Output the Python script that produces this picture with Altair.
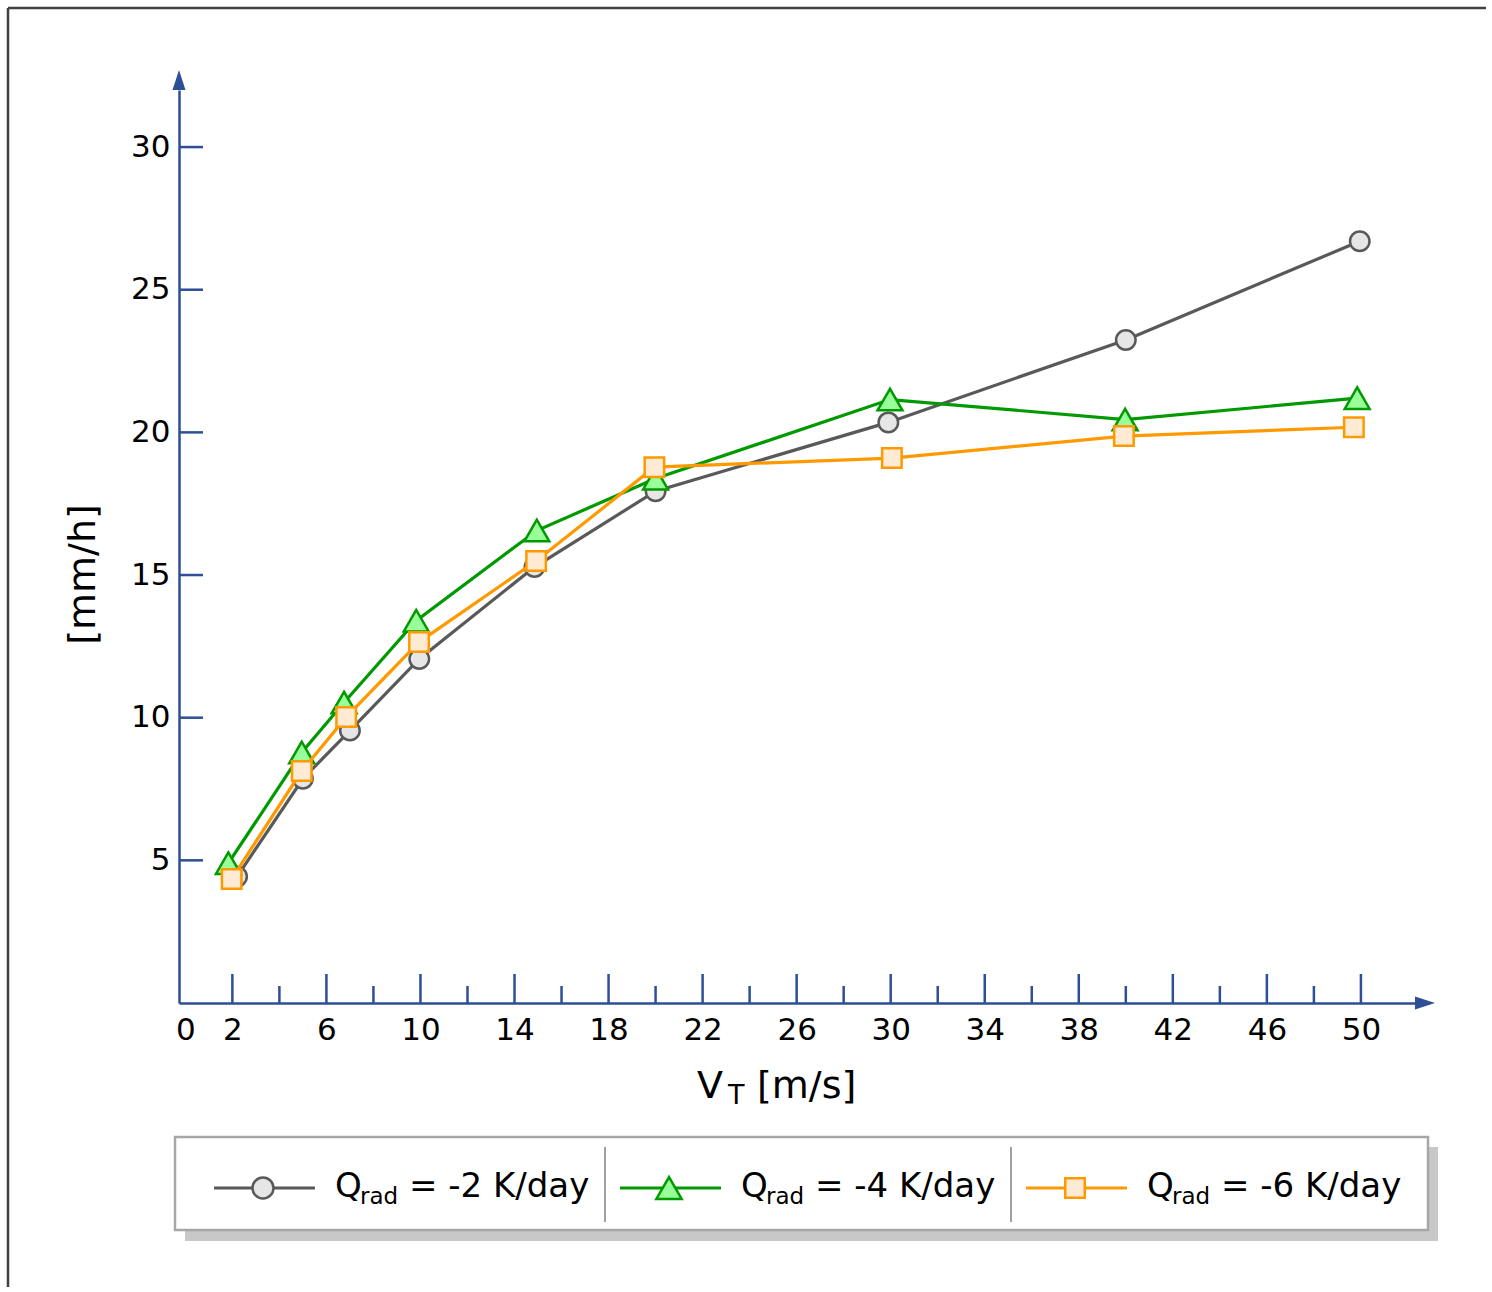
import altair as alt
import pandas as pd

# ---------------- data ----------------
VT_M2 = [2.2, 5.0, 7.0, 9.95, 14.85, 20.0, 29.9, 40.0, 49.95]
RAIN_M2 = [4.43, 7.86, 9.55, 12.06, 15.28, 17.94, 20.35, 23.24, 26.70]

VT_M4 = [1.83, 4.95, 6.75, 9.82, 14.95, 20.0, 29.97, 39.97, 49.84]
RAIN_M4 = [4.9, 8.78, 10.53, 13.4, 16.56, 18.38, 21.15, 20.45, 21.2]

VT_M6 = [1.97, 4.95, 6.84, 9.94, 14.92, 19.95, 30.05, 39.92, 49.7]
RAIN_M6 = [4.35, 8.13, 10.02, 12.65, 15.49, 18.78, 19.1, 19.87, 20.18]

X_LABELS = [0, 2, 6, 10, 14, 18, 22, 26, 30, 34, 38, 42, 46, 50]
X_MAJOR = [2, 6, 10, 14, 18, 22, 26, 30, 34, 38, 42, 46, 50]
X_MINOR = [4, 8, 12, 16, 20, 24, 28, 32, 36, 40, 44, 48]
Y_TICKS = [5, 10, 15, 20, 25, 30]
X_DOMAIN = [-0.27, 52.3]
Y_DOMAIN = [0, 32]

LEGEND_SLOTS = [0, 1, 2]
LEGEND_LABELS = ["= -2 K/day", "= -4 K/day", "= -6 K/day"]

# ---------------- styles ----------------
FONT = "DejaVu Sans"
BLUE = "#2c4f96"
W, H = 1236, 913

SERIES = [
    dict(vt=VT_M2, rain=RAIN_M2, line="#595959", fill="#e6e6e6", shape="circle", size=380, lsize=441),
    dict(vt=VT_M4, rain=RAIN_M4, line="#009a00", fill="#99ff99", shape="triangle-up", size=620, lsize=640),
    dict(vt=VT_M6, rain=RAIN_M6, line="#ff9900", fill="#ffebd4", shape="square", size=380, lsize=380),
]

ONE = pd.DataFrame({"k": [0]})

XS = alt.Scale(domain=X_DOMAIN, nice=False, zero=False)
YS = alt.Scale(domain=Y_DOMAIN, nice=False, zero=False)

XAX = alt.Axis(values=X_LABELS, ticks=False, tickSize=0, grid=False,
               domainColor=BLUE, domainWidth=2.5,
               labelFont=FONT, labelFontSize=31, labelColor="black",
               labelPadding=12, labelFlush=False, labelOverlap=False,
               format="d", title=None)
YAX = alt.Axis(values=Y_TICKS, ticks=False, tickSize=0, grid=False,
               domainColor=BLUE, domainWidth=2.5,
               labelFont=FONT, labelFontSize=31, labelColor="black",
               labelPadding=9, labelFlush=False, labelOverlap=False,
               format="d",
               title="[mm/h]", titleFont=FONT, titleFontSize=38,
               titleFontWeight="normal", titleColor="black",
               titleAngle=270, titleAlign="center", titleBaseline="middle",
               titleX=-96, titleY=484)


def X():
    return alt.X("vt:Q", scale=XS, axis=XAX)


def Y():
    return alt.Y("rain:Q", scale=YS, axis=YAX)


layers = []

# outer frame (decoration)
layers.append(alt.Chart(ONE).mark_rule(color="#404040", strokeWidth=2.5).encode(
    x=alt.value(-171), x2=alt.value(1307), y=alt.value(-82)))
layers.append(alt.Chart(ONE).mark_rule(color="#404040", strokeWidth=2.5).encode(
    x=alt.value(-171), y=alt.value(-82), y2=alt.value(1197)))

# inward ticks
layers.append(alt.Chart(pd.DataFrame({"vt": X_MAJOR})).mark_rule(color=BLUE, strokeWidth=2.5).encode(
    x=X(), y=alt.value(H - 29), y2=alt.value(H)))
layers.append(alt.Chart(pd.DataFrame({"vt": X_MINOR})).mark_rule(color=BLUE, strokeWidth=2.5).encode(
    x=X(), y=alt.value(H - 17), y2=alt.value(H)))
layers.append(alt.Chart(pd.DataFrame({"rain": Y_TICKS})).mark_rule(color=BLUE, strokeWidth=2.5).encode(
    y=Y(), x=alt.value(0), x2=alt.value(24)))

# axis arrows
layers.append(alt.Chart(pd.DataFrame({"vt": [X_DOMAIN[1]], "rain": [Y_DOMAIN[0]]})).mark_point(
    shape="M-1,-0.65L1,0L-1,0.65Z", filled=True, color=BLUE, size=400, opacity=1, xOffset=10).encode(
    x=X(), y=Y()))
layers.append(alt.Chart(pd.DataFrame({"vt": [X_DOMAIN[0]], "rain": [Y_DOMAIN[1]]})).mark_point(
    shape="M-0.65,1L0,-1L0.65,1Z", filled=True, color=BLUE, size=400, opacity=1, yOffset=-10).encode(
    x=X(), y=Y()))

# series
for s in SERIES:
    df = pd.DataFrame({"vt": s["vt"], "rain": s["rain"]})
    layers.append(alt.Chart(df).mark_line(color=s["line"], strokeWidth=3.2).encode(x=X(), y=Y()))
    layers.append(alt.Chart(df).mark_point(
        shape=s["shape"], filled=True, color=s["fill"], stroke=s["line"], strokeWidth=2.5,
        size=s["size"], opacity=1).encode(x=X(), y=Y()))

# x-axis title with subscript
layers.append(alt.Chart(ONE).mark_text(text="V", font=FONT, fontSize=38, color="black",
                                       align="left", baseline="alphabetic").encode(
    x=alt.value(518), y=alt.value(1008)))
layers.append(alt.Chart(ONE).mark_text(text="T", font=FONT, fontSize=27, color="black",
                                       align="left", baseline="alphabetic").encode(
    x=alt.value(549), y=alt.value(1014)))
layers.append(alt.Chart(ONE).mark_text(text="[m/s]", font=FONT, fontSize=38, color="black",
                                       align="left", baseline="alphabetic").encode(
    x=alt.value(578), y=alt.value(1008)))

main = alt.layer(*layers).properties(width=W, height=H)

# ---------------- legend panel ----------------
LW, LH = 1262, 112
SLOT = 406
LXS = alt.Scale(domain=[-35 / SLOT, (LW - 35) / SLOT], nice=False, zero=False)


def LX():
    return alt.X("slot:Q", scale=LXS, axis=None)


legend_df = pd.DataFrame({"slot": LEGEND_SLOTS, "label": LEGEND_LABELS})

leg = []
leg.append(alt.Chart(ONE).mark_rect(color="#c8c8c8").encode(
    x=alt.value(6), x2=alt.value(1259), y=alt.value(16), y2=alt.value(110)))
leg.append(alt.Chart(ONE).mark_rect(fill="white", stroke="#a6a6a6", strokeWidth=2.5).encode(
    x=alt.value(-4), x2=alt.value(1249), y=alt.value(6), y2=alt.value(99)))
leg.append(alt.Chart(pd.DataFrame({"slot": LEGEND_SLOTS[1:]})).mark_rule(
    color="#808080", strokeWidth=1.5, xOffset=-15).encode(
    x=LX(), y=alt.value(16), y2=alt.value(91)))

for i, s in enumerate(SERIES):
    d = pd.DataFrame({"slot": [LEGEND_SLOTS[i]]})
    leg.append(alt.Chart(d).mark_rule(color=s["line"], strokeWidth=3, x2Offset=101).encode(
        x=LX(), x2="slot:Q", y=alt.value(57)))
    leg.append(alt.Chart(d).mark_point(
        shape=s["shape"], filled=True, color=s["fill"], stroke=s["line"], strokeWidth=2.5,
        size=s["lsize"], opacity=1, xOffset=49).encode(x=LX(), y=alt.value(57)))

leg.append(alt.Chart(legend_df).mark_text(text="Q", font=FONT, fontSize=34, color="black",
                                          align="left", baseline="alphabetic", dx=121).encode(
    x=LX(), y=alt.value(66)))
leg.append(alt.Chart(legend_df).mark_text(text="rad", font=FONT, fontSize=23, color="black",
                                          align="left", baseline="alphabetic", dx=146).encode(
    x=LX(), y=alt.value(73)))
leg.append(alt.Chart(legend_df).mark_text(font=FONT, fontSize=34, color="black",
                                          align="left", baseline="alphabetic", dx=195).encode(
    x=LX(), y=alt.value(66), text="label:N"))

legend = alt.layer(*leg).properties(width=LW, height=LH)

chart = alt.vconcat(main, legend, spacing=128, bounds="flush").properties(
    padding={"left": 6, "top": 6, "right": 0, "bottom": 0}
).configure_view(strokeWidth=0)

chart.save("out.html", embed_options={"renderer": "svg", "actions": False})
